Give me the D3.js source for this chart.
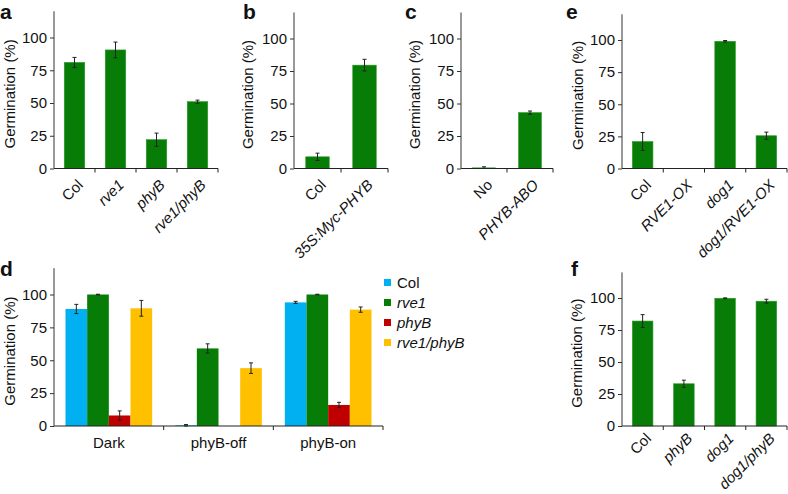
<!DOCTYPE html>
<html><head><meta charset="utf-8">
<script src="https://cdn.jsdelivr.net/npm/d3@7"></script>
<style>
html,body{margin:0;padding:0;background:#fff;}
text{font-family:"Liberation Sans",Arial,sans-serif;fill:#111;}
</style></head>
<body><svg id="c" width="788" height="494"></svg>
<script>
// ---- data ----
const aCats = ["Col","rve1","phyB","rve1/phyB"];
const aVals = [81,90.5,22,51];
const aErr  = [3.8,6,5,1.2];

const bCats = ["Col","35S:Myc-PHYB"];
const bVals = [9,79.5];
const bErr  = [2.8,4.5];

const cCats = ["No","PHYB-ABO"];
const cVals = [0.5,43];
const cErr  = [0.8,1.2];

const eCats = ["Col","RVE1-OX","dog1","dog1/RVE1-OX"];
const eVals = [21,0,99,25.5];
const eErr  = [7,0,0.6,2.8];

const fCats = ["Col","phyB","dog1","dog1/phyB"];
const fVals = [82,33,99.8,97.5];
const fErr  = [5,2.8,0.3,1.5];

const dGroups = ["Dark","phyB-off","phyB-on"];
const dSeries = ["Col","rve1","phyB","rve1/phyB"];
const dColors = ["#00b0f0","#077d07","#c00000","#ffc000"];
const dVals = [ // per series, per group
  [89,0.5,94],
  [100,59,100],
  [8,0,16],
  [89.5,44,88.5]
];
const dErr = [
  [3.5,0.6,0.8],
  [0.2,3.5,0.2],
  [3.5,0,2],
  [6,4,2]
];
const yTicks = [0,25,50,75,100];
const italicSet = new Set(["rve1","phyB","rve1/phyB","35S:Myc-PHYB","PHYB-ABO","RVE1-OX","dog1","dog1/RVE1-OX","dog1/phyB"]);
const GREEN = "#077d07";

const svg = d3.select("#c");

function yAxisPanel(g, y, left, titleX, yMid){
  const ax = g.append("g").attr("transform",`translate(${left},0)`)
    .call(d3.axisLeft(y).tickValues(yTicks).tickSize(4).tickPadding(3));
  ax.select(".domain").attr("stroke","#333").attr("d",`M0,${y.range()[0]}V${y.range()[1]}`);
  ax.selectAll(".tick line").attr("stroke","#333");
  ax.selectAll(".tick text").style("font-size","15px").attr("fill","#111");
  g.append("text").attr("transform",`translate(${titleX},${yMid}) rotate(-90)`)
    .attr("text-anchor","middle").attr("dy","0.35em").style("font-size","15px").text("Germination (%)");
}

function errBar(g, cx, yv, e, y){
  if(e<=0) return;
  const y1=y(yv+e), y2=y(Math.max(0,yv-e));
  g.append("line").attr("x1",cx).attr("x2",cx).attr("y1",y1).attr("y2",y2).attr("stroke","#222").attr("stroke-width",1);
  [y1,y2].forEach(yy=>g.append("line").attr("x1",cx-2).attr("x2",cx+2).attr("y1",yy).attr("y2",yy).attr("stroke","#222").attr("stroke-width",1));
}

function simplePanel(opts){
  const {cats, vals, errs, left, right, y0, y100, letter, letterX, letterY, titleX, labOff} = opts;
  const g = svg.append("g");
  const y = d3.scaleLinear().domain([0,120]).range([y0, y0-1.2*(y0-y100)]);
  const x = d3.scaleBand().domain(cats).range([left,right]).padding(0);
  const bw = x.bandwidth()*0.5;
  cats.forEach((c,i)=>{
    const cx = x(c)+x.bandwidth()/2;
    if(vals[i]>0){
      g.append("rect").attr("x",cx-bw/2).attr("width",bw).attr("y",y(vals[i])).attr("height",y(0)-y(vals[i]))
        .attr("fill",GREEN).attr("stroke","#2f9a2f").attr("stroke-width",0.6);
    }
    errBar(g,cx,vals[i],errs[i],y);
  });
  // x axis
  g.append("line").attr("x1",left).attr("x2",right).attr("y1",y0).attr("y2",y0).attr("stroke","#222").attr("stroke-width",1.2);
  cats.forEach((c,i)=>{
    const bx = x(c)+x.bandwidth();
    g.append("line").attr("x1",bx).attr("x2",bx).attr("y1",y0).attr("y2",y0+4).attr("stroke","#222");
    const cx = x(c)+x.bandwidth()/2;
    g.append("text").attr("transform",`translate(${cx+2},${y0+labOff}) rotate(-45)`)
      .attr("text-anchor","end").attr("dy","0.7em").style("font-size","15px")
      .style("font-style",italicSet.has(c)?"italic":"normal").text(c);
  });
  yAxisPanel(g,y,left,titleX,(y0+y(120))/2+4);
  g.append("text").attr("x",letterX).attr("y",letterY).style("font-size","21px").style("font-weight","bold").text(letter);
}

simplePanel({cats:aCats,vals:aVals,errs:aErr,left:54,right:218,y0:168.5,y100:37.5,letter:"a",letterX:0,letterY:19,titleX:10,labOff:10});
simplePanel({cats:bCats,vals:bVals,errs:bErr,left:294,right:388,y0:168.5,y100:38.5,letter:"b",letterX:243,letterY:19,titleX:248,labOff:10});
simplePanel({cats:cCats,vals:cVals,errs:cErr,left:461,right:553,y0:168.5,y100:38.5,letter:"c",letterX:405,letterY:19,titleX:415,labOff:10});
simplePanel({cats:eCats,vals:eVals,errs:eErr,left:622,right:787,y0:168.5,y100:40,letter:"e",letterX:566,letterY:19,titleX:578,labOff:10});
simplePanel({cats:fCats,vals:fVals,errs:fErr,left:622,right:787,y0:426,y100:298,letter:"f",letterX:571,letterY:276,titleX:577,labOff:6});

// panel d
(function(){
  const g = svg.append("g");
  const left=54, right=383, y0=426, y100=294.5;
  const y = d3.scaleLinear().domain([0,120]).range([y0, y0-1.2*(y0-y100)]);
  const x = d3.scaleBand().domain(dGroups).range([left,right]).padding(0);
  const inner = d3.scaleBand().domain(dSeries).range([11.5, x.bandwidth()-11.5]).padding(0);
  dGroups.forEach((grp,gi)=>{
    dSeries.forEach((s,si)=>{
      const bx = x(grp)+inner(s);
      const v = dVals[si][gi];
      if(v>0) g.append("rect").attr("x",bx).attr("width",inner.bandwidth()).attr("y",y(v)).attr("height",y(0)-y(v)).attr("fill",dColors[si]);
      errBar(g,bx+inner.bandwidth()/2,v,dErr[si][gi],y);
    });
  });
  g.append("line").attr("x1",left).attr("x2",right).attr("y1",y0).attr("y2",y0).attr("stroke","#222").attr("stroke-width",1.2);
  dGroups.forEach(grp=>{
    const bx = x(grp)+x.bandwidth();
    g.append("line").attr("x1",bx).attr("x2",bx).attr("y1",y0).attr("y2",y0+4).attr("stroke","#222");
    g.append("text").attr("x",x(grp)+x.bandwidth()/2).attr("y",y0+22).attr("text-anchor","middle").style("font-size","15px").text(grp);
  });
  yAxisPanel(g,y,left,10,(y0+y(120))/2+4);
  g.append("text").attr("x",0).attr("y",276).style("font-size","21px").style("font-weight","bold").text("d");
  // legend
  const lg = g.append("g");
  dSeries.forEach((s,i)=>{
    const yy = 283+i*20;
    lg.append("rect").attr("x",384).attr("y",yy-4).attr("width",7).attr("height",7).attr("fill",dColors[i]);
    lg.append("text").attr("x",397).attr("y",yy).attr("dy","0.35em").style("font-size","15px")
      .style("font-style",i>0?"italic":"normal").text(s);
  });
})();
</script></body></html>
